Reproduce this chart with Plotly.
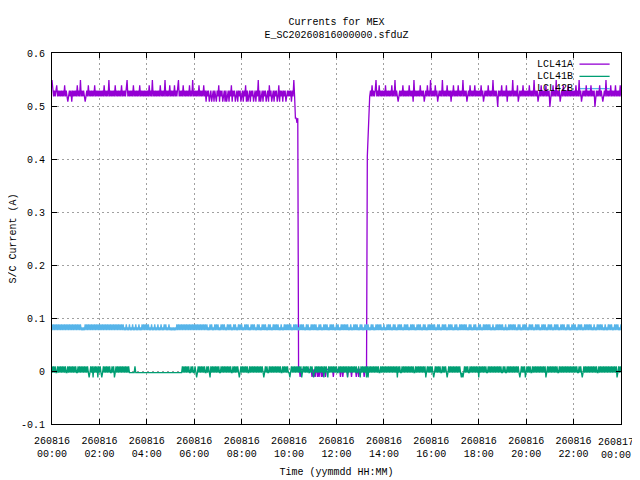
"""Currents for MEX: LCL41A / LCL41B / LCL42B over one day (gnuplot-style look)."""

from __future__ import annotations

import pandas as pd
import plotly.graph_objects as go

TITLE_LINES = ["Currents for MEX", "E_SC20260816000000.sfduZ"]
X_TITLE = "Time (yymmdd HH:MM)"
Y_TITLE = "S/C Current (A)"
START = "2026-08-16 00:00"
SAMPLE_STEP = "2min"

SERIES_NAMES = ["LCL41A", "LCL41B", "LCL42B"]
SERIES_COLORS = ["#9400d3", "#009e73", "#56b4e9"]

# Quantised current levels (A); each code below is one 2-min sample.
LCL41A_LEVELS = {
    "-": 0.498, "0": 0.508, "1": 0.518, "2": 0.529, "3": 0.539, "4": 0.549,
    "a": 0.477, "b": 0.468, "s": 0.460, "r": 0.405, "z": 0.003, "y": -0.011,
}
LCL41B_LEVELS = {"-": -0.012, "0": -0.003, "1": 0.009}
LCL42B_LEVELS = {"0": 0.077, "1": 0.082, "2": 0.088}

# one line per 2 hours, 6 groups of 10 samples
LCL41A_CODES = [
    "4212123121 2121213121 0121202121 2131214121 2101213121 2121312121",  # 00-02
    "2121213121 2141212121 3121212131 2121241212 1213121212 1312121212",  # 02-04
    "1213121412 1212121312 1214121213 1212131212 4121213121 2121312141",  # 04-06
    "2121213121 2131202120 1201202102 1302120120 2012021302 1201202120",  # 06-08
    "1202130201 2021201202 1402012021 2012031201 2021201302 1202120121",  # 08-10
    "21202141aa bazzyzzzzz zzzzzzzzzy zyzyzzyzyz zyzyzzyzzz zzzzzzyzzz",  # 10-12
    "zzzzzyzzyz zzzzyzzzzy zzzzzyzzyz zzzzzyzzzr s012131212 4121312121",  # 12-14
    "2131212121 3121412101 2121312121 2131212041 2121213121 2012131214",  # 14-16
    "1212131201 2121412121 3121202131 2121312121 4121201213 1212131212",  # 16-18
    "1213120121 2131212141 2121-21213 1212130212 1214121213 0121213121",  # 18-20
    "2121312121 4121201213 1212131212 -121312141 2120121312 1213121212",  # 20-22
    "1213121412 0121213121 2131212-12 1213121012 1412121312 1213121213 1",  # 22-24
]
LCL41B_CODES = [
    "1010100101 0101010100 1010101010 1001010101 0101010-01 01-10101-1",
    "010-010101 010100101- 0101010101 0101010100 0000010000 0000000000",
    "0000000000 0000000000 0000000000 0000000000 0000010101 0101001010",
    "010-010101 0101001010 -101010101 0100101010 1010101001 0101010-01",
    "0101010100 1010101010 10101010-0 1010010101 0101010101 0010101010",
    "0-01010101 010101-010 1010100101 0-01010101 0101-1010- 1010101010",
    "1001010101 0101-10101 0101010010 -1010101-1 -101010101 0101001010",
    "1010101010 1010101-10 1001010101 0101010100 1010101010 101-010101",
    "010-010101 0100101010 -010101010 10101010-0 -010101001 0101010101",
    "-101010101 0010101010 1010101010 0101001010 1010101010 10-010101-",
    "0101010010 1010101010 10101-0101 0101010101 0010101010 1010101010",
    "1010100101 0-01010101 0101010101 0010101010 1010101010 10101-0101 0",
]
LCL42B_CODES = [
    "2020202020 2020202020 2020202020 2020202010 1020202020 2020202020",
    "2020202020 2020202020 2020202020 2010201020 1020102010 2010202020",
    "2020102010 2010201020 1020201020 1010101020 2020202020 2020202020",
    "2020202020 2020202010 2020102020 2010202020 1020202010 2020102020",
    "2010202020 1020202010 2020102020 2010202010 2020202010 2010202020",
    "2020102020 2010202020 1020201020 2020201020 2010202020 1020202010",
    "2020102020 2020201020 1020202010 2020102020 2010202010 2020202010",
    "2010202020 1020201020 2020102020 2010202020 1020202010 2020102020",
    "2020201020 2010202020 1020202010 2020102020 2020201020 2010202010",
    "2020102020 2020201020 1020202020 2010201020 2020202010 2020102020",
    "2010202020 1020202010 2020201020 2020102020 2010202020 1020201020",
    "2020102020 2010202020 2020102010 2020202010 2010202020 1020202010 2",
]

X_RANGE = ["2026-08-16 00:00", "2026-08-17 00:00"]
X_TICKS = [
    "2026-08-16 00:00", "2026-08-16 02:00", "2026-08-16 04:00", "2026-08-16 06:00",
    "2026-08-16 08:00", "2026-08-16 10:00", "2026-08-16 12:00", "2026-08-16 14:00",
    "2026-08-16 16:00", "2026-08-16 18:00", "2026-08-16 20:00", "2026-08-16 22:00",
    "2026-08-17 00:00",
]
X_TICK_LABELS = [
    "260816<br>00:00", "260816<br>02:00", "260816<br>04:00", "260816<br>06:00",
    "260816<br>08:00", "260816<br>10:00", "260816<br>12:00", "260816<br>14:00",
    "260816<br>16:00", "260816<br>18:00", "260816<br>20:00", "260816<br>22:00",
    "260817<br>00:00",
]
Y_RANGE = [-0.1, 0.6]
Y_TICKS = [-0.1, 0.0, 0.1, 0.2, 0.3, 0.4, 0.5, 0.6]
Y_TICK_LABELS = ["-0.1", "0", "0.1", "0.2", "0.3", "0.4", "0.5", "0.6"]

FONT = "Liberation Mono, DejaVu Sans Mono, monospace"
GRID_COLOR = "#a0a0a0"

# the page body keeps its default 8px margin, so the figure is sized to fit inside 640x480
FIG_W, FIG_H = 632, 472


def _decode(codes: list[str], levels: dict[str, float]) -> list[float]:
    return [levels[c] for c in "".join(codes).replace(" ", "")]


def main() -> int:
    series = [
        _decode(LCL41A_CODES, LCL41A_LEVELS),
        _decode(LCL41B_CODES, LCL41B_LEVELS),
        _decode(LCL42B_CODES, LCL42B_LEVELS),
    ]
    text_font = {"family": FONT, "size": 10, "color": "#000"}

    fig = go.Figure()
    for name, color, values in zip(SERIES_NAMES, SERIES_COLORS, series, strict=True):
        times = pd.date_range(START, periods=len(values), freq=SAMPLE_STEP)
        fig.add_trace(
            go.Scatter(
                x=times,
                y=values,
                mode="lines",
                name=name,
                line={"color": color, "width": 1.3},
                showlegend=False,
            )
        )

    # gnuplot-like key: text right-aligned, sample line to its right
    key_rows = [0.970, 0.937, 0.904]
    for name, color, y in zip(SERIES_NAMES, SERIES_COLORS, key_rows, strict=True):
        fig.add_annotation(
            x=0.919, y=y, xref="paper", yref="paper", text=name, showarrow=False,
            xanchor="right", yanchor="middle", font=text_font,
        )
        fig.add_shape(
            type="line", xref="paper", yref="paper", x0=0.927, x1=0.98, y0=y, y1=y,
            line={"color": color, "width": 1.3}, layer="below",
        )

    # the last date label sits pulled in from the right edge, as gnuplot does
    fig.add_annotation(
        x=0.992, y=0, xref="paper", yref="paper", text=X_TICK_LABELS[-1], showarrow=False,
        xanchor="center", yanchor="top", yshift=-11, align="center", font=text_font,
    )

    axis_common = {
        "showline": True,
        "linecolor": "#000",
        "linewidth": 1,
        "mirror": "ticks",
        "ticks": "inside",
        "ticklen": 5,
        "tickcolor": "#000",
        "showgrid": True,
        "gridcolor": GRID_COLOR,
        "gridwidth": 1,
        "griddash": "2px,3px",
        "zeroline": False,
        "automargin": False,
        "tickfont": text_font,
    }
    fig.update_xaxes(
        type="date",
        range=X_RANGE,
        tickmode="array",
        tickvals=X_TICKS,
        ticktext=X_TICK_LABELS[:-1] + [""],
        ticklabelstandoff=7,
        title={"text": X_TITLE, "standoff": 8, "font": text_font},
        **axis_common,
    )
    fig.update_yaxes(
        range=Y_RANGE,
        tickmode="array",
        tickvals=Y_TICKS,
        ticktext=Y_TICK_LABELS,
        ticklabelstandoff=4,
        title={"text": Y_TITLE, "standoff": 4, "font": text_font},
        **axis_common,
    )
    fig.update_layout(
        width=FIG_W,
        height=FIG_H,
        margin={"l": 44, "r": 18.5, "t": 45, "b": 55.5},
        paper_bgcolor="#fff",
        plot_bgcolor="#fff",
        font=text_font,
        title={
            "text": "<br>".join(TITLE_LINES),
            "x": 0.5,
            "xref": "paper",
            "xanchor": "center",
            "y": 1 - 16.5 / FIG_H,
            "yanchor": "middle",
            "font": text_font,
        },
    )
    fig.write_html("out.html")
    return 0


if __name__ == "__main__":
    raise SystemExit(main())
